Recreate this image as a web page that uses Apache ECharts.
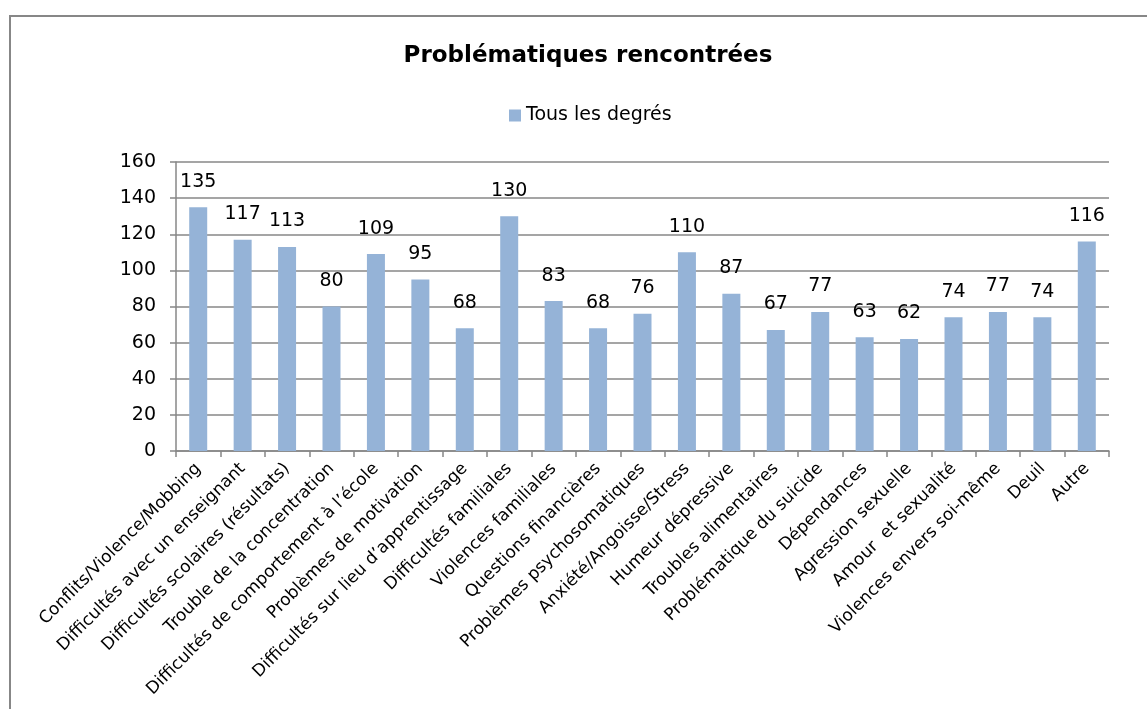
<!DOCTYPE html>
<html>
<head>
<meta charset="utf-8">
<script src="https://cdn.jsdelivr.net/npm/echarts@6/dist/echarts.min.js"></script>
<style>
  html, body { margin: 0; padding: 0; background: #fff; }
  #chart { width: 1147px; height: 709px; }
</style>
</head>
<body>
<div id="chart"></div>
<script>
const categories = [
  'Conflits/Violence/Mobbing',
  'Difficultés avec un enseignant',
  'Difficultés scolaires (résultats)',
  'Trouble de la concentration',
  'Difficultés de comportement à l\u2019école',
  'Problèmes de motivation',
  'Difficultés sur lieu d\u2019apprentissage',
  'Difficultés familiales',
  'Violences familiales',
  'Questions financières',
  'Problèmes psychosomatiques',
  'Anxiété/Angoisse/Stress',
  'Humeur dépressive',
  'Troubles alimentaires',
  'Problématique du suicide',
  'Dépendances',
  'Agression sexuelle',
  'Amour  et sexualité',
  'Violences envers soi-même',
  'Deuil',
  'Autre'
]
const values = [135, 117, 113, 80, 109, 95, 68, 130, 83, 68, 76, 110, 87, 67, 77, 63, 62, 74, 77, 74, 116]
const seriesName = 'Tous les degrés'
const chartTitle = 'Problématiques rencontrées'

const font = '"DejaVu Sans", sans-serif'
const gridColor = '#878787'
const barColor = '#95b3d7'

const chart = echarts.init(document.getElementById('chart'))

chart.setOption({
  animation: false,
  backgroundColor: '#fff',
  textStyle: { fontFamily: font },
  graphic: [{
    type: 'rect',
    shape: { x: 10, y: 16, width: 1200, height: 800 },
    style: { fill: 'none', stroke: gridColor, lineWidth: 2 },
    silent: true,
  }],
  title: {
    text: chartTitle,
    left: 583,
    textAlign: 'center',
    top: 40,
    textStyle: { fontFamily: font, fontSize: 23, fontWeight: 'bold', color: '#000' },
  },
  legend: {
    data: [seriesName],
    left: 504,
    top: 101,
    itemWidth: 12,
    itemHeight: 12,
    itemGap: 6,
    icon: 'rect',
    textStyle: { fontFamily: font, fontSize: 19, color: '#000' },
  },
  grid: { left: 176, right: 38, top: 162, bottom: 258 },
  xAxis: {
    type: 'category',
    data: categories,
    axisLine: { lineStyle: { color: gridColor, width: 1.5 } },
    axisTick: { show: true, length: 6, lineStyle: { color: gridColor, width: 1.5 } },
    axisLabel: {
      interval: 0,
      rotate: 45,
      fontFamily: font,
      fontSize: 17,
      color: '#000',
      margin: 15,
    },
  },
  yAxis: {
    type: 'value',
    min: 0,
    max: 160,
    interval: 20,
    axisLine: { show: true, lineStyle: { color: gridColor, width: 1.5 } },
    axisTick: { show: true, length: 6, lineStyle: { color: gridColor, width: 1.5 } },
    splitLine: { lineStyle: { color: gridColor, width: 1.5 } },
    axisLabel: { fontFamily: font, fontSize: 19, color: '#000', margin: 20 },
  },
  series: [{
    name: seriesName,
    type: 'bar',
    data: values,
    barWidth: 18,
    itemStyle: { color: barColor },
    label: {
      show: true,
      position: 'top',
      distance: 16,
      fontFamily: font,
      fontSize: 19,
      color: '#000',
    },
  }],
})
</script>
</body>
</html>
